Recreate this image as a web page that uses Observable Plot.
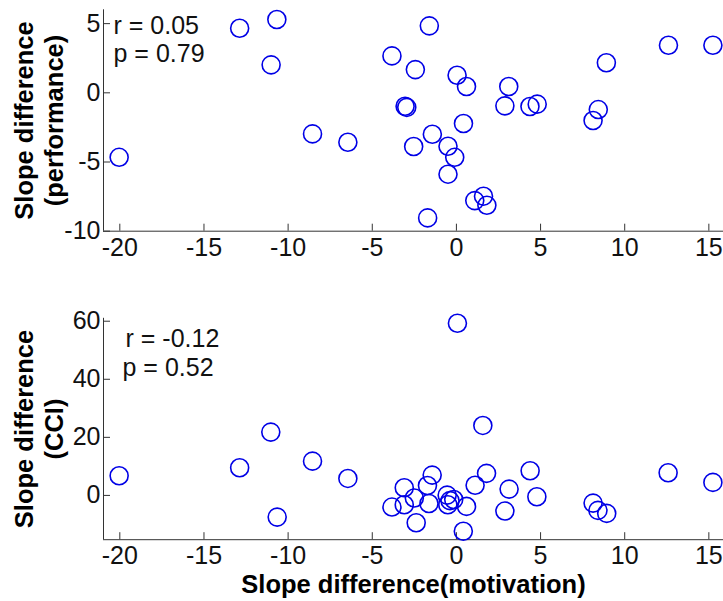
<!DOCTYPE html>
<html>
<head>
<meta charset="utf-8">
<script src="https://cdn.jsdelivr.net/npm/d3@7"></script>
<script src="https://cdn.jsdelivr.net/npm/@observablehq/plot@0.6"></script>
<style>
  html, body { margin: 0; padding: 0; background: #fff; }
  #chart svg { display: block; }
</style>
</head>
<body>
<div id="chart"></div>
<script>
// ---- Data ----
const xTicks = [-20, -15, -10, -5, 0, 5, 10, 15];
const topYTicks = [-10, -5, 0, 5];
const botYTicks = [0, 20, 40, 60];

const topX = [-20.04, -12.88, -10.67, -11.01, -8.55, -6.45, -1.61, -3.83, -2.44, 0.04, 0.6, 3.11,
  -3.05, -2.95, 2.88, 4.37, 4.8, 8.43, 8.12, 8.91, 12.6, 15.24, 0.42, -1.43, -2.54, -0.5, -0.1,
  -0.5, 1.09, 1.61, 1.81, -1.71];
const topY = [-4.66, 4.67, 5.3, 2.02, -2.97, -3.57, 4.84, 2.67, 1.68, 1.27, 0.46, 0.46,
  -0.97, -1.05, -0.94, -0.99, -0.82, -1.21, -2.0, 2.17, 3.44, 3.44, -2.22, -2.99, -3.88, -3.86, -4.66,
  -5.88, -7.79, -7.47, -8.13, -9.04];

const botX = [-20.04, -12.88, -11.03, -8.55, -6.45, -10.65, 0.06, 1.57, 12.58, 15.24, 4.38, 1.79,
  1.11, 3.13, 4.78, 2.88, 8.12, 8.41, 8.93, 0.41, -2.39, -3.83, -3.1, -3.1, -2.5, -1.63, -1.72,
  -1.44, -0.55, -0.51, -0.16, 0.6, -0.38];
const botY = [6.78, 9.53, 21.8, 11.8, 5.85, -7.46, 59.3, 24.1, 7.8, 4.48, 8.5, 7.6,
  3.5, 2.18, -0.46, -5.39, -2.64, -5.16, -6.2, -12.35, -9.4, -4.01, -3.2, 2.64, -0.9, -2.8, 3.4,
  7.0, 0.1, -3.2, -1.4, -3.79, -1.8];

const xLabel = "Slope difference(motivation)";
const topYLabel = "Slope difference\n(performance)";
const botYLabel = "Slope difference\n(CCI)";
const topStats = ["r = 0.05", "p = 0.79"];
const botStats = ["r = -0.12", "p = 0.52"];

const xDomain = [-20.97, 15.87];
const topYDomain = [-10, 6];
const botYDomain = [-15.25, 61];

// ---- Styling ----
const FONT = "'Liberation Sans', Arial, Helvetica, sans-serif";
const dotColor = "#0000e6";
const axisColor = "#333";
const tickFont = 25;
const labelFont = 25.5;
const W = 723, ML = 103, MR = 0;

function panel({xs, ys, yDomain, yTicks, height, marginTop, marginBottom, yLabel, stats, statDx, statDy, xLab}) {
  const data = xs.map((x, i) => ({x, y: ys[i]}));
  const frameH = height - marginTop - marginBottom;
  const frameW = W - ML - MR;
  const marks = [
    Plot.ruleX([xDomain[0]], {stroke: axisColor, strokeWidth: 1}),
    Plot.ruleY([yDomain[0]], {stroke: axisColor, strokeWidth: 1}),
    Plot.tickX(xTicks, {x: d => d, stroke: axisColor, insetTop: frameH - 7}),
    Plot.tickY(yTicks, {y: d => d, stroke: axisColor, insetRight: frameW - 7}),
    Plot.axisX({ticks: xTicks, tickSize: 0, tickPadding: 7, fontSize: tickFont, tickFormat: d => String(d), label: null, fill: "#111"}),
    Plot.axisY({ticks: yTicks, tickSize: 0, tickPadding: 3, fontSize: tickFont, tickFormat: d => String(d), label: null, fill: "#111"}),
    Plot.dot(data, {x: "x", y: "y", r: 9, stroke: dotColor, strokeWidth: 1.6, fill: "none"}),
    Plot.text([yLabel], {frameAnchor: "left", rotate: -90, dx: -65, fontWeight: "bold", fontSize: labelFont,
      lineHeight: 1.15, textAnchor: "middle", lineAnchor: "middle", fill: "#000"}),
    Plot.text([stats[0]], {frameAnchor: "top-left", dx: statDx[0], dy: statDy[0], fontSize: tickFont,
      textAnchor: "start", lineAnchor: "middle", fill: "#111"}),
    Plot.text([stats[1]], {frameAnchor: "top-left", dx: statDx[1], dy: statDy[1], fontSize: tickFont,
      textAnchor: "start", lineAnchor: "middle", fill: "#111"})
  ];
  if (xLab) {
    marks.push(Plot.text([xLab], {frameAnchor: "bottom", dy: 45, fontWeight: "bold", fontSize: labelFont,
      textAnchor: "middle", lineAnchor: "middle", fill: "#000"}));
  }
  return Plot.plot({
    width: W, height, marginLeft: ML, marginRight: MR, marginTop, marginBottom,
    style: {fontFamily: FONT, background: "#fff", overflow: "visible"},
    x: {domain: xDomain},
    y: {domain: yDomain},
    marks
  });
}

const topPanel = panel({xs: topX, ys: topY, yDomain: topYDomain, yTicks: topYTicks, height: 265,
  marginTop: 9.3, marginBottom: 34.3, yLabel: topYLabel, stats: topStats,
  statDx: [10, 10], statDy: [15.7, 43.7]});
const botPanel = panel({xs: botX, ys: botY, yDomain: botYDomain, yTicks: botYTicks, height: 336,
  marginTop: 52.8, marginBottom: 61.8, yLabel: botYLabel, stats: botStats,
  statDx: [22, 19], statDy: [21, 49.5], xLab: xLabel});

document.getElementById("chart").append(topPanel, botPanel);
</script>
</body>
</html>
